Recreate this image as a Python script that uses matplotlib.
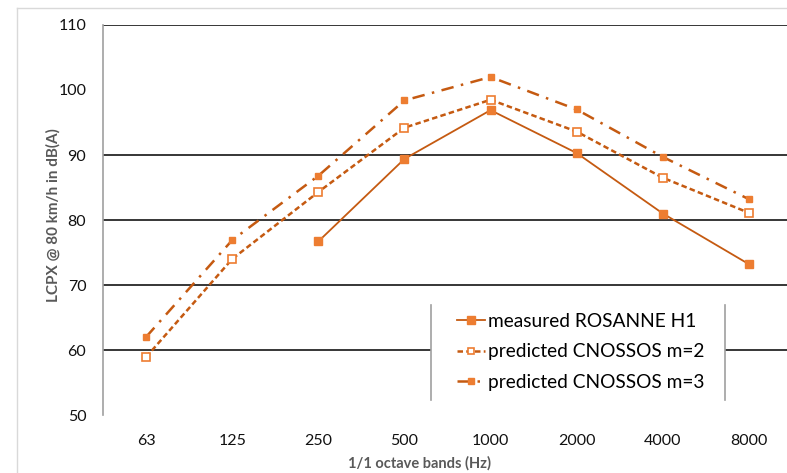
import matplotlib
matplotlib.use("Agg")
import matplotlib.pyplot as plt
from matplotlib.lines import Line2D
from matplotlib.patches import Rectangle

bands = ["63", "125", "250", "500", "1000", "2000", "4000", "8000"]
measured = [None, None, 76.7, 89.4, 96.9, 90.3, 81.0, 73.2]
pred_m2 = [58.9, 74.0, 84.3, 94.2, 98.5, 93.6, 86.5, 81.1]
pred_m3 = [62.0, 76.9, 86.8, 98.4, 102.0, 97.0, 89.7, 83.2]
grid_vals = [60, 70, 80, 90, 110]
yticks = [50, 60, 70, 80, 90, 100, 110]

plt.rcParams['font.family'] = ['Lato', 'DejaVu Sans']

W, H = 787, 473
fig = plt.figure(figsize=(W/100, H/100), dpi=100)

# faint chart-area border
fig.add_artist(Line2D([17/W, 17/W], [0, (H-8)/H], color='#d9d9d9', lw=1))
fig.add_artist(Line2D([17/W, 1], [(H-8)/H, (H-8)/H], color='#d9d9d9', lw=1))

ax = fig.add_axes([103/W, (H-415)/H, (792-103)/W, 390/H])

line_c = "#C55A11"
mark_c = "#ED7D31"
x = list(range(len(bands)))

mx = [i for i, v in zip(x, measured) if v is not None]
my = [v for v in measured if v is not None]
ax.plot(mx, my, color=line_c, lw=1.3, marker='s', ms=6, mfc=mark_c, mec=mark_c,
        label="measured ROSANNE H1", zorder=3)
ax.plot(x, pred_m2, color=line_c, lw=1.8, ls=(0, (2.2, 1.3)), marker='s', ms=5.6,
        mfc='white', mec=mark_c, mew=1.2, label="predicted CNOSSOS m=2", zorder=3)
ax.plot(x, pred_m3, color=line_c, lw=1.8, ls=(0, (5, 3, 1, 3)), marker='s', ms=4.8,
        mfc=mark_c, mec=mark_c, label="predicted CNOSSOS m=3", zorder=3)

for g in grid_vals:
    ax.axhline(g, color='black', lw=1.1, zorder=1)

ax.set_xlim(-0.5, 7.5)
ax.set_ylim(50, 110)
ax.set_xticks(x)
ax.set_xticklabels(bands, fontsize=11.5, color='#111111')
ax.set_yticks(yticks)
ax.set_yticklabels([str(v) for v in yticks], fontsize=11.5, color='#111111')
ax.tick_params(length=0, pad=14)
ax.tick_params(axis='y', pad=12)
for s in ['top', 'right', 'bottom']:
    ax.spines[s].set_visible(False)
ax.spines['left'].set_color('#a0a0a0')
ax.spines['left'].set_linewidth(1.2)

ax.set_xlabel("1/1 octave bands (Hz)", fontsize=10.5, fontweight='bold', color='#595959')
ax.set_ylabel("LCPX @ 80 km/h in dB(A)", fontsize=11, fontweight='bold', color='#595959')
ax.xaxis.set_label_coords((420-103)/689, -(463-415)/390)
ax.yaxis.set_label_coords((53-103)/689, (415-215)/390)
ax.xaxis.label.set_va('center')
ax.yaxis.label.set_va('center')

# legend background and side borders
ax.add_patch(Rectangle((431/W, (H-400)/H), (725-431)/W, 95/H, facecolor='white',
                       edgecolor='none', zorder=4, transform=fig.transFigure, clip_on=False))
for xp in (431, 725):
    fig.add_artist(Line2D([xp/W, xp/W], [(H-305)/H, (H-400)/H], color='#a0a0a0', lw=1.2, zorder=6))

leg = ax.legend(loc='upper left', bbox_to_anchor=((457-103)/689, (415-313)/390),
                frameon=False, fontsize=13.8, handlelength=1.45,
                handletextpad=0.15, labelspacing=0.7, borderpad=0, borderaxespad=0)
leg.set_zorder(7)
for h, ms in zip(leg.legend_handles, [5.5, 5.0, 4.2]):
    h.set_markersize(ms)

fig.savefig("out.png", dpi=100)
